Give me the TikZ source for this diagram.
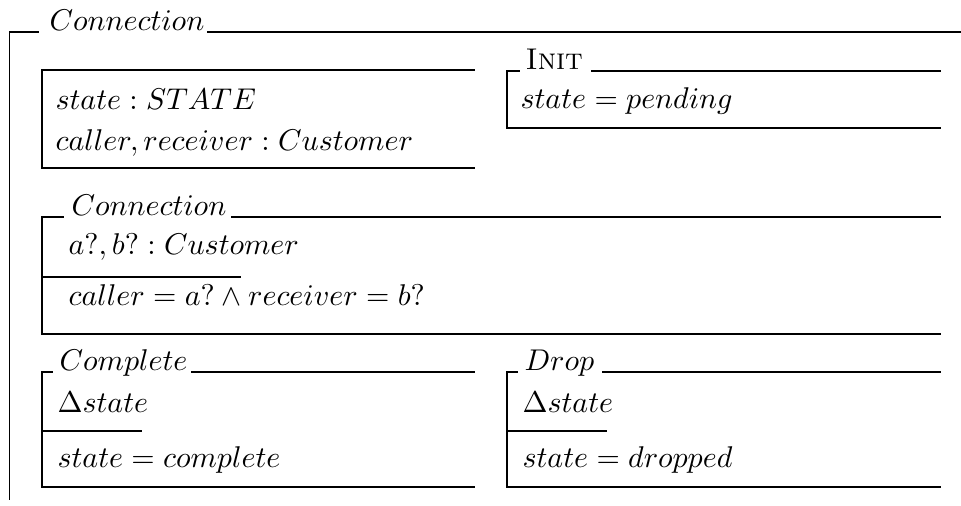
\documentclass[tikz,border=0pt]{standalone}
\usepackage{amssymb}
\tikzset{
  frame/.style={line width=0.6pt, line cap=rect},
  body/.style={anchor=base west, inner sep=0pt},
  title/.style={anchor=base west, inner sep=0pt}
}
\begin{document}
\begin{tikzpicture}[x=0.3333pt, y=-0.3333pt]
\useasboundingbox (0,0) rectangle (961,505);

% ---- outer schema: Connection ----
\node[title] (outerT) at (49,30) {$Connection$};
\draw[frame] (9.5,499) -- (9.5,32) -- (38,32);
\draw[frame] (208,32) -- (961,32);

% ---- state declarations ----
\draw[frame] (474,70) -- (42,70) -- (42,168) -- (474,168);
\node[body] (st1) at (55,109) {$state : STATE$};
\node[body] (st2) at (55,150) {$caller, receiver : Customer$};

% ---- Init ----
\node[title] (initT) at (525,69) {\textsc{Init}};
\draw[frame] (519,71) -- (507,71) -- (507,128) -- (940,128);
\draw[frame] (592,71) -- (940,71);
\node[body] (init1) at (520,108) {$state = pending$};

% ---- Connection operation ----
\node[title] (connT) at (71,215) {$Connection$};
\draw[frame] (63,217) -- (42,217) -- (42,334) -- (940,334);
\draw[frame] (232,217) -- (940,217);
\node[body] (conn1) at (68,254) {$a?, b? : Customer$};
\draw[frame] (42,277) -- (240,277);
\node[body] (conn2) at (68,305) {$caller = a? \land receiver = b?$};

% ---- Complete ----
\node[title] (compT) at (59,370) {$Complete$};
\draw[frame] (52,372) -- (42,372) -- (42,487) -- (474,487);
\draw[frame] (192,372) -- (474,372);
\node[body] (comp1) at (57,412) {$\Delta state$};
\draw[frame] (42,431) -- (141,431);
\node[body] (comp2) at (57,467) {$state = complete$};

% ---- Drop ----
\node[title] (dropT) at (524,370) {$Drop$};
\draw[frame] (517,372) -- (507,372) -- (507,487) -- (940,487);
\draw[frame] (603,372) -- (940,372);
\node[body] (drop1) at (522,412) {$\Delta state$};
\draw[frame] (507,431) -- (606,431);
\node[body] (drop2) at (522,467) {$state = dropped$};
\end{tikzpicture}
\end{document}
